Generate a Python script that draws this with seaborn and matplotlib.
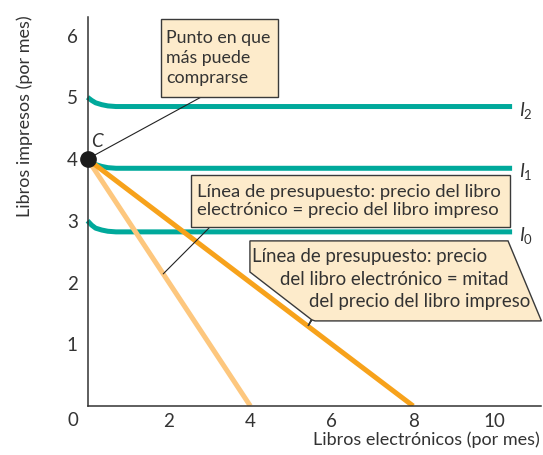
import matplotlib
matplotlib.use("Agg")
import matplotlib.pyplot as plt
import seaborn as sns
import pandas as pd
from matplotlib.patches import Polygon

# ---------------- data ----------------
curve_x = [0.0, 0.1, 0.2, 0.35, 0.5, 0.7, 1.0, 10.43]
i2_y = [5.0, 4.95, 4.91, 4.88, 4.86, 4.85, 4.85, 4.85]
i1_y = [4.0, 3.95, 3.91, 3.88, 3.86, 3.85, 3.85, 3.85]
i0_y = [3.0, 2.93, 2.88, 2.85, 2.83, 2.82, 2.82, 2.82]
curve_labels = ["I2", "I1", "I0"]

budget_equal_x = [0, 4]
budget_equal_y = [4, 0]
budget_half_x = [0, 8]
budget_half_y = [4, 0]

point_c = (0, 4)

x_ticks = [2, 4, 6, 8, 10]
y_ticks = [1, 2, 3, 4, 5, 6]

box1_text = "Punto en que\nmás puede\ncomprarse"
box2_text = "Línea de presupuesto: precio del libro\nelectrónico = precio del libro impreso"
box3_lines = ["Línea de presupuesto: precio",
              "del libro electrónico = mitad",
              "del precio del libro impreso"]

TEAL = "#00A99B"
DARK_OR = "#F7A21B"
LIGHT_OR = "#FDC77E"
BOX_FILL = "#FDEBCB"
EDGE = "#3a3a3a"
TXT = "#333333"

sns.set_theme(style="white")
plt.rcParams["font.family"] = ["Lato", "DejaVu Sans"]
plt.rcParams["mathtext.fontset"] = "custom"
plt.rcParams["mathtext.it"] = "Lato:italic"
plt.rcParams["mathtext.rm"] = "Lato"

fig = plt.figure(figsize=(5.43, 4.55), dpi=100)
ax = fig.add_axes([87.5 / 543, 1 - 406 / 455, (541 - 87.5) / 543, (406 - 17) / 455])

# indifference curves
for ys, lab in zip([i2_y, i1_y, i0_y], curve_labels):
    df = pd.DataFrame({"x": curve_x, "y": ys})
    sns.lineplot(data=df, x="x", y="y", ax=ax, color=TEAL, lw=3.6, sort=False,
                 solid_capstyle="butt", clip_on=False)
    ax.text(curve_x[-1] + 0.18, ys[-1] - 0.06, r"$I_{\mathrm{%s}}$" % lab[1],
            fontsize=13.5, color=TXT, va="center", ha="left")

# budget lines
sns.lineplot(x=budget_equal_x, y=budget_equal_y, ax=ax, color=LIGHT_OR, lw=3.6,
             solid_capstyle="butt")
sns.lineplot(x=budget_half_x, y=budget_half_y, ax=ax, color=DARK_OR, lw=3.6,
             solid_capstyle="butt")

# point C
ax.plot([point_c[0]], [point_c[1]], "o", color="#1a1a1a", ms=11, clip_on=False, zorder=6)
ax.text(0.23, 4.28, "C", fontstyle="italic", fontsize=13.5, color=TXT,
        ha="center", va="center")

# box 1
ax.plot([0, 2.81], [4, 5.01], color="#222222", lw=0.8, zorder=3)
ax.add_patch(Polygon([[1.81, 5.01], [4.68, 5.01], [4.68, 6.27], [1.81, 6.27]],
                     closed=True, fc=BOX_FILL, ec=EDGE, lw=1.0, zorder=4, clip_on=False))
ax.text(1.93, 5.64, box1_text, fontsize=12.8,
        ha="left", va="center", linespacing=1.3, color=TXT, zorder=5)

# box 2
ax.plot([1.86, 3.01], [2.14, 2.90], color="#222222", lw=0.8, zorder=3)
ax.add_patch(Polygon([[2.54, 2.90], [10.38, 2.90], [10.38, 3.74], [2.54, 3.74]],
                     closed=True, fc=BOX_FILL, ec=EDGE, lw=1.0, zorder=4, clip_on=False))
ax.text(2.68, 3.32, box2_text,
        fontsize=13.3, ha="left", va="center", linespacing=1.22, color=TXT, zorder=5)

# box 3 (callout)
ax.add_patch(Polygon([[3.99, 2.674], [10.33, 2.674], [11.15, 1.378], [5.59, 1.378],
                      [5.51, 1.394], [5.42, 1.297], [5.50, 1.40], [3.99, 2.17]],
                     closed=True, fc=BOX_FILL, ec=EDGE, lw=1.0, zorder=4, clip_on=False))
for line, xr, yc in zip(box3_lines, [9.816, 10.33, 10.87], [2.415, 2.042, 1.686]):
    ax.text(xr, yc, line, fontsize=13.4, ha="right", va="center", color=TXT,
            zorder=5, clip_on=False)

# axes styling
ax.set_xlim(0, 11.14)
ax.set_ylim(0, 6.3)
ax.set_xticks(x_ticks)
ax.set_yticks(y_ticks)
ax.set_xticklabels([str(t) for t in x_ticks])
ax.set_yticklabels([str(t) for t in y_ticks])
ax.tick_params(axis="both", direction="in", length=7, width=1.0, color=TXT,
               labelsize=13.5, labelcolor=TXT)
ax.tick_params(axis="x", pad=5)
ax.tick_params(axis="y", pad=7)
for s in ["top", "right"]:
    ax.spines[s].set_visible(False)
for s in ["left", "bottom"]:
    ax.spines[s].set_color(TXT)
    ax.spines[s].set_linewidth(1.1)
ax.set_xlabel("")
ax.set_ylabel("")

fig.text(73 / 543, 1 - 421 / 455, "0", fontsize=13.5, color=TXT, ha="center", va="center")
fig.text(540 / 543, 1 - 440 / 455, "Libros electrónicos (por mes)", fontsize=13,
         color=TXT, ha="right", va="center")
fig.text(25 / 543, 1 - 116 / 455, "Libros impresos (por mes)", fontsize=13,
         color=TXT, ha="center", va="center", rotation=90)

fig.savefig("out.png", dpi=100)
